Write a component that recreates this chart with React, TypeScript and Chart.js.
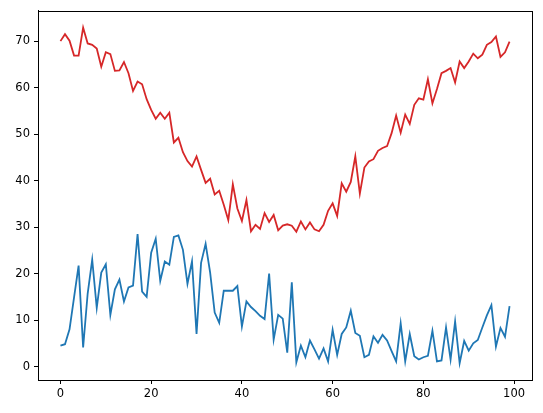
import React, { useEffect, useRef } from "react";
import { Chart, registerables } from "chart.js";

Chart.register(...registerables);

const xValues: number[] = Array.from({ length: 100 }, (_, i) => i);

const redSeries: number[] = [
  70.0, 71.5, 70.1, 66.9, 66.9, 72.9, 69.5, 69.2, 68.4, 64.5,
  67.6, 67.2, 63.6, 63.7, 65.5, 63.1, 59.3, 61.3, 60.7, 57.5,
  55.2, 53.3, 54.6, 53.3, 54.6, 48.2, 49.2, 46.1, 44.2, 43.0,
  45.2, 42.3, 39.5, 40.4, 37.0, 37.8, 34.8, 31.5, 39.2, 34.0,
  31.3, 35.8, 29.1, 30.5, 29.6, 33.0, 31.1, 32.6, 29.3, 30.3,
  30.6, 30.3, 29.0, 31.2, 29.5, 31.0, 29.5, 29.1, 30.5, 33.5,
  35.1, 32.4, 39.4, 37.6, 39.7, 45.2, 37.2, 42.8, 44.1, 44.6,
  46.4, 47.0, 47.4, 50.2, 54.0, 50.3, 54.2, 52.2, 56.3, 57.7,
  57.4, 61.8, 56.6, 59.7, 63.1, 63.6, 64.2, 61.1, 65.6, 64.2,
  65.6, 67.3, 66.3, 67.1, 69.2, 69.8, 71.0, 66.6, 67.6, 69.9,
];

const blueSeries: number[] = [
  4.5, 4.8, 8.0, 14.9, 21.7, 4.1, 15.7, 23.0, 12.6, 20.2,
  22.0, 11.1, 16.6, 18.7, 14.0, 17.0, 17.4, 28.5, 16.1, 15.0,
  24.5, 27.5, 18.4, 22.6, 21.9, 27.9, 28.2, 25.1, 17.8, 22.6,
  7.0, 22.3, 26.4, 20.2, 11.6, 9.4, 16.3, 16.3, 16.3, 17.3,
  8.6, 14.0, 12.8, 11.9, 10.9, 10.2, 20.0, 5.8, 11.1, 10.3,
  3.0, 18.1, 0.9, 4.5, 2.0, 5.6, 3.7, 1.7, 3.9, 1.1,
  7.9, 2.5, 7.0, 8.4, 12.0, 7.2, 6.6, 2.0, 2.5, 6.5,
  5.1, 6.8, 5.6, 3.3, 1.1, 9.3, 1.1, 7.0, 2.2, 1.5,
  2.0, 2.3, 7.7, 1.1, 1.3, 8.4, 1.5, 9.7, 0.7, 5.5,
  3.4, 5.0, 5.7, 8.4, 11.0, 13.2, 4.3, 8.3, 6.4, 13.0,
];

const xTicks: number[] = [0, 20, 40, 60, 80, 100];
const yTicks: number[] = [0, 10, 20, 30, 40, 50, 60, 70];

const RED = "#d62728";
const BLUE = "#1f77b4";
const FONT = "'DejaVu Sans', sans-serif";

const framePlugin = {
  id: "frame",
  afterDraw(chart: any) {
    const { ctx, chartArea } = chart;
    ctx.save();
    ctx.strokeStyle = "#000";
    ctx.lineWidth = 1;
    ctx.strokeRect(
      Math.round(chartArea.left) + 0.5,
      Math.round(chartArea.top) + 0.5,
      Math.round(chartArea.right - chartArea.left),
      Math.round(chartArea.bottom - chartArea.top)
    );
    ctx.restore();
  },
};

export default function App() {
  const ref = useRef<HTMLCanvasElement | null>(null);

  useEffect(() => {
    document.body.style.margin = "0";
    const canvas = ref.current;
    if (!canvas) return;
    const chart = new Chart(canvas, {
      type: "line",
      data: {
        datasets: [
          {
            data: xValues.map((x, i) => ({ x, y: blueSeries[i] })),
            borderColor: BLUE,
            borderWidth: 1.8,
            pointRadius: 0,
            tension: 0,
            fill: false,
          },
          {
            data: xValues.map((x, i) => ({ x, y: redSeries[i] })),
            borderColor: RED,
            borderWidth: 1.8,
            pointRadius: 0,
            tension: 0,
            fill: false,
          },
        ],
      },
      options: {
        animation: false,
        responsive: false,
        maintainAspectRatio: false,
        layout: { padding: { left: 0, top: 10, right: 11, bottom: 0 } },
        plugins: {
          legend: { display: false },
          tooltip: { enabled: false },
        },
        scales: {
          x: {
            type: "linear",
            min: -4.95,
            max: 103.95,
            afterBuildTicks(scale: any) {
              scale.ticks = xTicks.map((v) => ({ value: v }));
            },
            afterFit(scale: any) {
              scale.height = 33;
            },
            ticks: {
              color: "#000",
              font: { family: FONT, size: 11.5 },
              padding: 3,
              maxRotation: 0,
              autoSkip: false,
              callback: (v: any) => String(v),
            },
            grid: {
              display: true,
              drawOnChartArea: false,
              drawTicks: true,
              tickLength: 4,
              color: "#000",
            },
            border: { display: true, color: "#000", width: 1 },
          },
          y: {
            type: "linear",
            min: -2.9,
            max: 76.5,
            afterBuildTicks(scale: any) {
              scale.ticks = yTicks.map((v) => ({ value: v }));
            },
            afterFit(scale: any) {
              scale.width = 38;
            },
            ticks: {
              color: "#000",
              font: { family: FONT, size: 11.5 },
              padding: 4,
              autoSkip: false,
              callback: (v: any) => String(v),
            },
            grid: {
              display: true,
              drawOnChartArea: false,
              drawTicks: true,
              tickLength: 4,
              color: "#000",
            },
            border: { display: true, color: "#000", width: 1 },
          },
        },
      },
      plugins: [framePlugin],
    } as any);
    return () => chart.destroy();
  }, []);

  return (
    <div style={{ position: "absolute", left: 0, top: 0, width: 543, height: 413, background: "#fff" }}>
      <canvas ref={ref} width={543} height={413} style={{ width: 543, height: 413 }} />
    </div>
  );
}
